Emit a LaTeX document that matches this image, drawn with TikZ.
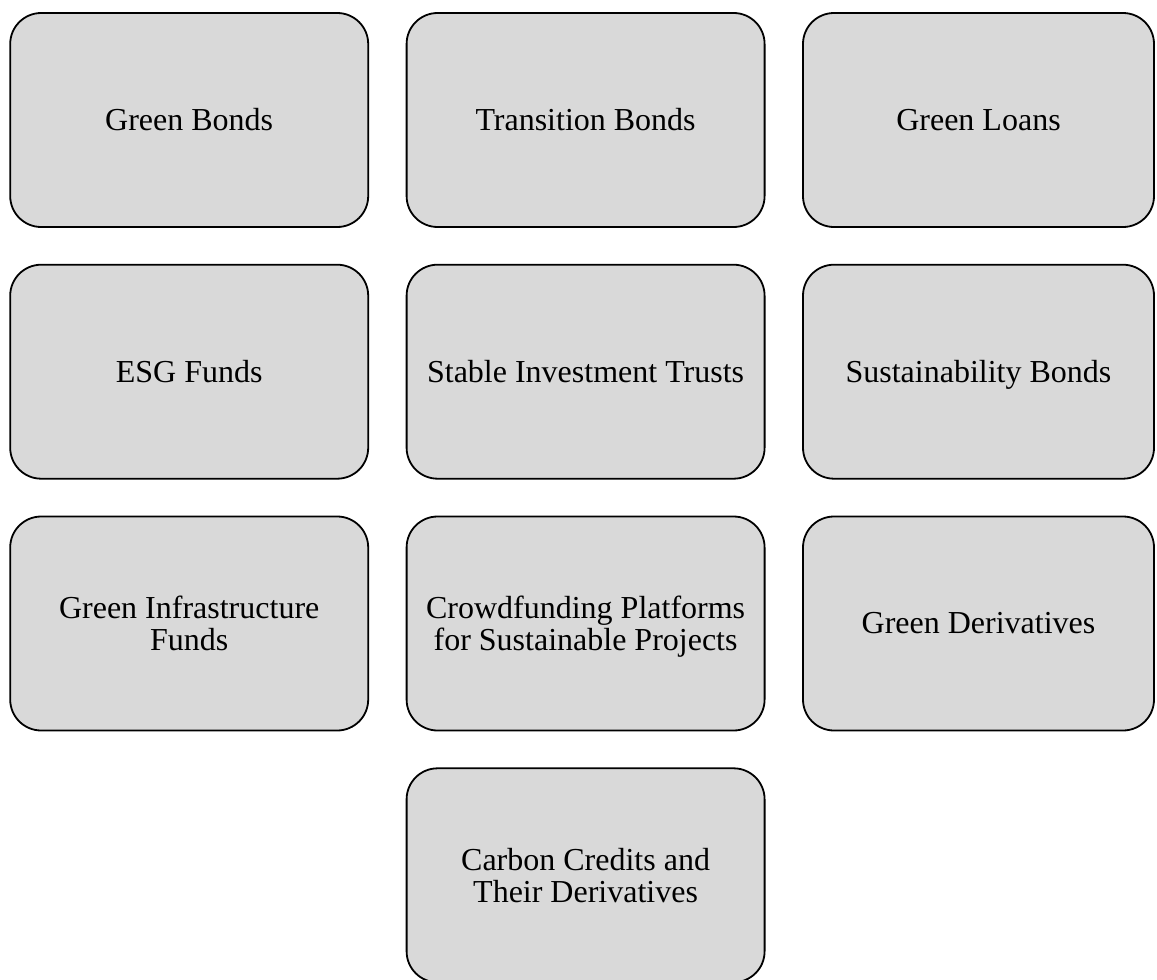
\documentclass[tikz,border=0pt]{standalone}
\usepackage{fontspec}
\setmainfont{Liberation Serif}
\definecolor{boxfill}{HTML}{D9D9D9}
\begin{document}
\begin{tikzpicture}[x=1pt,y=-1pt,
  item/.style={draw=black, line width=1.8pt, fill=boxfill, rounded corners=31pt,
    minimum height=214pt, align=center, inner sep=0pt,
    font=\fontsize{32}{32}\selectfont},
  wide/.style={item, minimum width=358pt},
  narrow/.style={item, minimum width=351pt}]
\useasboundingbox (0,0) rectangle (1157,980);
\node[wide] (gb) at (189.2,120) {Green Bonds};
\node[wide] (tb) at (585.6,120) {Transition Bonds};
\node[narrow] (gl) at (978.5,120) {Green Loans};
\node[wide] (esg) at (189.2,371.7) {ESG Funds};
\node[wide] (sit) at (585.6,371.7) {Stable Investment Trusts};
\node[narrow] (sb) at (978.5,371.7) {Sustainabilit\smash{y} Bonds};
\node[wide] (gif) at (189.2,623.5) {Green Infrastructure\\Funds};
\node[wide] (cf) at (585.6,623.5) {Crowdfunding Platforms\\for Sustainable Pro\smash{j}ects};
\node[narrow] (gd) at (978.5,623.5) {Green Derivatives};
\node[wide] (cc) at (585.6,875.3) {Carbon Credits and\\Their Derivatives};
\end{tikzpicture}
\end{document}
